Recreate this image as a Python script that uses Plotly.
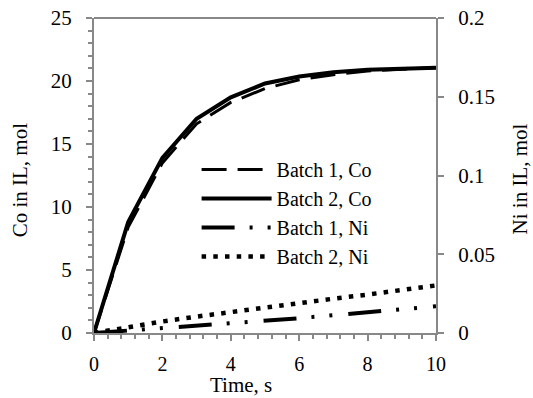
import plotly.graph_objects as go

time_s = [0, 1, 2, 3, 4, 5, 6, 7, 8, 9, 10]
co_batch1 = [0, 8.4, 13.5, 16.6, 18.3, 19.4, 20.1, 20.5, 20.8, 20.95, 21.05]
co_batch2 = [0, 8.8, 13.9, 17.0, 18.7, 19.8, 20.35, 20.7, 20.9, 21.0, 21.05]
ni_batch1 = [0, 0.0015, 0.0029, 0.0044, 0.0061, 0.0078, 0.0094, 0.0113, 0.0132, 0.0150, 0.0170]
ni_batch2 = [0, 0.0039, 0.0073, 0.0104, 0.0134, 0.0163, 0.0191, 0.0218, 0.0244, 0.0270, 0.0302]

names = ["Batch 1, Co", "Batch 2, Co", "Batch 1, Ni", "Batch 2, Ni"]
x_ticks = [0, 2, 4, 6, 8, 10]
y1_ticks = [0, 5, 10, 15, 20, 25]
y2_ticks = [0, 0.05, 0.1, 0.15, 0.2]
y2_labels = ["0", "0.05", "0.1", "0.15", "0.2"]

FONT = "Liberation Serif"
FS = 21
AX = "#888888"

fig = go.Figure()
fig.add_trace(go.Scatter(x=time_s, y=co_batch1, name=names[0], mode="lines",
                         line=dict(color="black", width=3, dash="25px,11px")))
fig.add_trace(go.Scatter(x=time_s, y=co_batch2, name=names[1], mode="lines",
                         line=dict(color="black", width=4)))
fig.add_trace(go.Scatter(x=time_s, y=ni_batch1, name=names[2], mode="lines", yaxis="y2",
                         line=dict(color="black", width=4, dash="33px,15px,3px,15px,3px,16px")))
fig.add_trace(go.Scatter(x=time_s, y=ni_batch2, name=names[3], mode="lines", yaxis="y2",
                         line=dict(color="black", width=4.5, dash="4.5px,7.2px")))

fig.update_layout(
    width=533, height=398,
    margin=dict(l=94, r=97, t=18, b=65, autoexpand=False),
    paper_bgcolor="white", plot_bgcolor="white",
    font=dict(family=FONT, size=FS, color="black"),
    showlegend=True,
    legend=dict(x=0.30, y=0.381, xanchor="left", yanchor="middle",
                bgcolor="rgba(0,0,0,0)", itemwidth=70,
                font=dict(family=FONT, size=20, color="black"),
                tracegroupgap=0),
    xaxis=dict(range=[0, 10], tickvals=x_ticks, ticks="outside", ticklen=6,
               tickcolor=AX, tickwidth=1.5, showline=True, linecolor=AX, linewidth=2,
               showgrid=False, zeroline=False, mirror=False, automargin=False,
               tickfont=dict(family=FONT, size=20),
               minor=dict(dtick=0.4, tick0=0, ticks="outside", ticklen=4, tickcolor=AX, tickwidth=1.5),
               ticklabelstandoff=6),
    yaxis=dict(range=[0, 25], tickvals=y1_ticks, ticks="outside", ticklen=6,
               tickcolor=AX, tickwidth=1.5, showline=True, linecolor=AX, linewidth=2,
               showgrid=False, zeroline=False, automargin=False,
               minor=dict(dtick=1, tick0=0, ticks="outside", ticklen=4, tickcolor=AX, tickwidth=1.5),
               ticklabelstandoff=10),
    yaxis2=dict(range=[0, 0.2], tickvals=y2_ticks, ticktext=y2_labels, overlaying="y",
                side="right", ticks="outside", ticklen=6, tickcolor=AX, tickwidth=1.5,
                showline=True, linecolor=AX, linewidth=2, showgrid=False, zeroline=False,
                automargin=False, ticklabelstandoff=10),
    shapes=[dict(type="line", xref="paper", yref="paper", x0=0, x1=1, y0=1, y1=1,
                 line=dict(color=AX, width=2))],
    annotations=[
        dict(text="Time, s", xref="paper", yref="paper", x=0.43, y=-0.165,
             xanchor="center", yanchor="middle", showarrow=False,
             font=dict(family=FONT, size=FS)),
        dict(text="Co in IL, mol", xref="paper", yref="paper", x=-0.216, y=0.485,
             xanchor="center", yanchor="middle", textangle=-90, showarrow=False,
             font=dict(family=FONT, size=FS)),
        dict(text="Ni in IL, mol", xref="paper", yref="paper", x=1.245, y=0.49,
             xanchor="center", yanchor="middle", textangle=-90, showarrow=False,
             font=dict(family=FONT, size=FS)),
    ],
)

fig.write_html("out.html")
